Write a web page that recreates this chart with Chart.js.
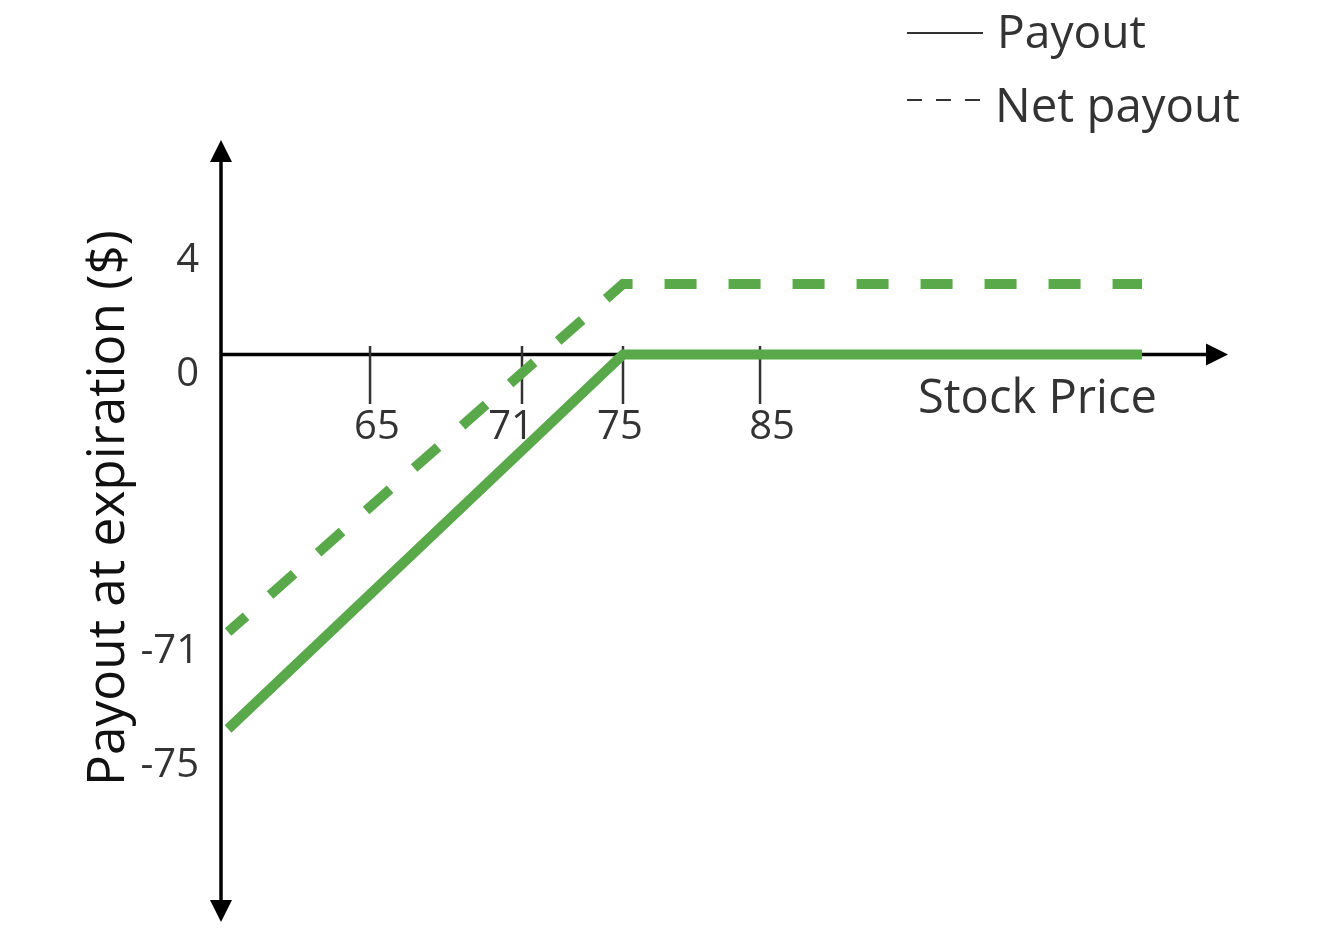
<!DOCTYPE html>
<html><head><meta charset="utf-8">
<script src="https://cdn.jsdelivr.net/npm/chart.js@4/dist/chart.umd.min.js"></script>
<style>html,body{margin:0;padding:0;background:#fff;} #wrap{width:1320px;height:942px;}</style>
</head><body><div id="wrap"><canvas id="c" width="1320" height="942"></canvas></div>
<script>
// ---------- data ----------
const seriesNames = ['Payout', 'Net payout'];
const payoutPrices = [0, 75, 110];
const payoutValues = [-75, 0, 0];
const netPrices = [0, 75, 110];
const netValues = [-71, 4, 4];
const xTickValues = [65, 71, 75, 85];
const xTickLabels = ['65', '71', '75', '85'];
const yTickValues = [4, 0, -71, -75];
const yTickLabels = ['4', '0', '-71', '-75'];
const xTitle = 'Stock Price';
const yTitle = 'Payout at expiration ($)';

// ---------- schematic (not-to-scale) axis geometry ----------
// value -> fraction of the plot area, piecewise linear (the figure is a sketch, not to scale)
const AXIS_MAPS = {
  x:  { values: [0, 65, 71, 75, 85, 110], decimals: [0.0070, 0.1480, 0.2989, 0.3992, 0.5353, 0.9146] },
  xl: { values: [65, 71, 75, 85],         decimals: [0.1549, 0.2880, 0.3962, 0.5472] },
  y:  { values: [-75, -71, 0, 4],         decimals: [0.2468, 0.3708, 0.7257, 0.8159] },
  yl: { values: [-75, -71, 0, 4],         decimals: [0.1854, 0.3312, 0.6854, 0.8312] }
};
function interp(v, xs, ys) {
  const n = xs.length;
  let i = 0;
  if (v <= xs[0]) i = 0;
  else if (v >= xs[n - 1]) i = n - 2;
  else { while (v > xs[i + 1]) i++; }
  const t = (v - xs[i]) / (xs[i + 1] - xs[i]);
  return ys[i] + t * (ys[i + 1] - ys[i]);
}
class SchematicScale extends Chart.LinearScale {
  getPixelForValue(value) {
    if (value === null || value === undefined || !isFinite(value)) return NaN;
    const m = AXIS_MAPS[this.id];
    return this.getPixelForDecimal(interp(value, m.values, m.decimals));
  }
  getValueForPixel(pixel) {
    const m = AXIS_MAPS[this.id];
    return interp(this.getDecimalForPixel(pixel), m.decimals, m.values);
  }
}
SchematicScale.id = 'schematic';
SchematicScale.defaults = Chart.LinearScale.defaults;
Chart.register(SchematicScale);

// ---------- drawing helpers ----------
const FONT = '"Open Sans", "Noto Sans", sans-serif';
const WEIGHT = '500 ';
const GREEN = 'rgb(89,169,74)';
const TEXT = '#333333';
function fitSize(ctx, text, width) {
  ctx.font = WEIGHT + '100px ' + FONT;
  return 100 * width / ctx.measureText(text).width;
}
function arrow(ctx, tx, ty, dir) {
  const L = 22, H = 11;
  ctx.beginPath();
  ctx.moveTo(tx, ty);
  if (dir === 'up')    { ctx.lineTo(tx - H, ty + L); ctx.lineTo(tx + H, ty + L); }
  if (dir === 'down')  { ctx.lineTo(tx - H, ty - L); ctx.lineTo(tx + H, ty - L); }
  if (dir === 'right') { ctx.lineTo(tx - L, ty - H); ctx.lineTo(tx - L, ty + H); }
  ctx.closePath();
  ctx.fill();
}

const schematicPlugin = {
  id: 'schematicAxes',
  beforeDatasetsDraw(chart) {
    const { ctx, chartArea: a, scales } = chart;
    const x = scales.x, y = scales.y, xl = scales.xl, yl = scales.yl;
    const ax = a.left, ay = y.getPixelForValue(0);
    ctx.save();
    // axes
    ctx.strokeStyle = '#000'; ctx.fillStyle = '#000'; ctx.lineWidth = 3.5;
    ctx.beginPath(); ctx.moveTo(ax, a.top + 18); ctx.lineTo(ax, a.bottom - 18); ctx.stroke();
    ctx.beginPath(); ctx.moveTo(ax, ay); ctx.lineTo(a.right - 18, ay); ctx.stroke();
    arrow(ctx, ax, a.top, 'up');
    arrow(ctx, ax, a.bottom, 'down');
    arrow(ctx, a.right, ay, 'right');
    // tick marks
    ctx.strokeStyle = '#333333'; ctx.lineWidth = 2.5;
    xTickValues.forEach(v => {
      const px = x.getPixelForValue(v);
      ctx.beginPath(); ctx.moveTo(px, ay - 8.5); ctx.lineTo(px, ay + 49.5); ctx.stroke();
    });
    // tick labels
    ctx.fillStyle = TEXT;
    ctx.font = WEIGHT + '40px ' + FONT;
    ctx.textBaseline = 'alphabetic';
    ctx.textAlign = 'center';
    xTickValues.forEach((v, i) => ctx.fillText(xTickLabels[i], xl.getPixelForValue(v), ay + 84));
    ctx.textAlign = 'right';
    yTickValues.forEach((v, i) => ctx.fillText(yTickLabels[i], a.left - 22, yl.getPixelForValue(v)));
    // x title
    const xs = fitSize(ctx, xTitle, 239);
    ctx.font = WEIGHT + xs + 'px ' + FONT;
    ctx.textAlign = 'left';
    ctx.fillText(xTitle, 918, ay + 58);
    // y title
    const ys = fitSize(ctx, yTitle, 556);
    ctx.font = WEIGHT + ys + 'px ' + FONT;
    ctx.fillStyle = '#111111';
    ctx.translate(124, 508);
    ctx.rotate(-Math.PI / 2);
    ctx.textAlign = 'center';
    ctx.fillText(yTitle, 0, 0);
    ctx.restore();
  },
  afterDraw(chart) {
    const ctx = chart.ctx;
    ctx.save();
    ctx.strokeStyle = '#333333'; ctx.lineWidth = 2;
    ctx.beginPath(); ctx.moveTo(907, 33); ctx.lineTo(983, 33); ctx.stroke();
    ctx.setLineDash([15, 14]);
    ctx.beginPath(); ctx.moveTo(907, 100); ctx.lineTo(980, 100); ctx.stroke();
    ctx.setLineDash([]);
    ctx.fillStyle = TEXT;
    ctx.textAlign = 'left'; ctx.textBaseline = 'alphabetic';
    let s = fitSize(ctx, seriesNames[0], 149);
    ctx.font = WEIGHT + s + 'px ' + FONT;
    ctx.fillText(seriesNames[0], 997, 48);
    s = fitSize(ctx, seriesNames[1], 245);
    ctx.font = WEIGHT + s + 'px ' + FONT;
    ctx.fillText(seriesNames[1], 995, 122);
    ctx.restore();
  }
};

new Chart(document.getElementById('c'), {
  type: 'line',
  data: {
    datasets: [
      {
        label: seriesNames[0],
        data: payoutPrices.map((p, i) => ({ x: p, y: payoutValues[i] })),
        borderColor: GREEN, borderWidth: 10, borderCapStyle: 'butt', borderJoinStyle: 'miter',
        pointRadius: 0, fill: false, tension: 0
      },
      {
        label: seriesNames[1],
        data: netPrices.map((p, i) => ({ x: p, y: netValues[i] })),
        borderColor: GREEN, borderWidth: 10, borderCapStyle: 'butt', borderJoinStyle: 'miter',
        borderDash: [32, 32], borderDashOffset: 8,
        pointRadius: 0, fill: false, tension: 0
      }
    ]
  },
  options: {
    responsive: false,
    animation: false,
    events: [],
    layout: { padding: { left: 221, top: 140, right: 92, bottom: 20 } },
    scales: {
      x:  { type: 'schematic', min: 0, max: 120, display: false },
      y:  { type: 'schematic', min: -90, max: 20, display: false },
      xl: { type: 'schematic', axis: 'x', position: 'bottom', min: 0, max: 120, display: false },
      yl: { type: 'schematic', axis: 'y', position: 'left', min: -90, max: 20, display: false }
    },
    plugins: { legend: { display: false }, tooltip: { enabled: false } }
  },
  plugins: [schematicPlugin]
});
</script>
</body></html>
